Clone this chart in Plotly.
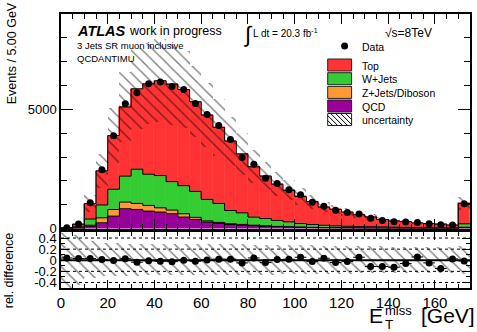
import math
import plotly.graph_objects as go

# ---------------- data ----------------
bin_lo = list(range(0, 175, 5))          # 5 GeV bins, last bin = overflow
bin_w = 5
qcd   = [3, 15, 100, 240, 520, 830, 800, 730, 690, 620, 480, 380, 270, 220, 170, 145, 115, 95, 75, 62,
         50, 42, 35, 30, 25, 22, 18, 15, 13, 11, 10, 8, 7, 6, 40]
zjets = [1, 10, 40, 210, 280, 280, 255, 240, 180, 155, 140, 90, 50, 40, 35, 30, 25, 20, 17, 14,
         12, 10, 9, 7, 6, 5, 4, 4, 3, 3, 2, 2, 2, 1, 15]
wjets = [2, 45, 260, 540, 850, 1090, 1435, 1310, 1355, 1195, 1180, 1090, 905, 795, 555, 485, 340, 305, 250, 205,
         150, 120, 95, 75, 65, 58, 53, 50, 44, 36, 28, 25, 21, 18, 145]
top   = [25, 110, 645, 1430, 2250, 2900, 3370, 3790, 3975, 4085, 4030, 3760, 3535, 3185, 2910, 2470, 2110, 1780, 1520, 1320,
         1135, 960, 760, 690, 595, 495, 410, 310, 260, 240, 195, 175, 155, 120, 855]
data  = [30, 190, 1080, 2465, 3890, 5240, 5700, 6070, 6150, 5960, 5830, 5250, 4780, 4320, 3740, 2975, 2700, 2110, 1885, 1625,
         1420, 1105, 935, 770, 670, 610, 430, 340, 280, 272, 250, 200, 158, 149, 1045]
rel_diff = [0.04, 0.03, 0.03, 0.015, -0.005, 0.027, -0.035, -0.01, -0.02, -0.025, 0.0, -0.018, 0.006, 0.02, 0.02,
            -0.048, 0.042, -0.042, 0.012, 0.018, 0.054, -0.024, 0.036, -0.042, -0.024, 0.054, -0.113, -0.113, -0.125,
            -0.06, 0.06, -0.048, -0.149, 0.024, -0.012]
rel_unc = [0.8, 0.45, 0.33, 0.3, 0.3, 0.29, 0.29, 0.28, 0.28, 0.28, 0.28, 0.28, 0.28, 0.28, 0.28, 0.28, 0.27, 0.27,
           0.27, 0.26, 0.26, 0.26, 0.25, 0.25, 0.25, 0.24, 0.24, 0.24, 0.23, 0.23, 0.23, 0.23, 0.23, 0.23, 0.25]

samples = [("QCD", qcd, "#990099"), ("Z+Jets/Diboson", zjets, "#FF9933"),
           ("W+Jets", wjets, "#33CC33"), ("Top", top, "#FF3333")]

centers = [lo + bin_w / 2 for lo in bin_lo]
edges = bin_lo + [bin_lo[-1] + bin_w]

FONT = "Liberation Sans, Arial, Helvetica, sans-serif"
W, H = 477, 332
ML, MR, MT, MB = 61, 5, 14, 44
PW, PH = W - ML - MR, H - MT - MB


def P(px, py):
    return (px - ML) / PW, (H - MB - py) / PH


fig = go.Figure()

# stacked histograms
base = [0.0] * len(bin_lo)
cum_levels = []
for name, vals, col in samples:
    fig.add_trace(go.Bar(x=centers, y=vals, base=list(base), width=bin_w, name=name,
                         marker=dict(color=col, line=dict(width=0.6, color=col)),
                         showlegend=False, xaxis="x", yaxis="y"))
    base = [b + v for b, v in zip(base, vals)]
    cum_levels.append(list(base))
total = base

# uncertainty band (main)
lo_band = [t * (1 - u) for t, u in zip(total, rel_unc)]
hi_band = [2 * t * u for t, u in zip(total, rel_unc)]
hatch = dict(shape="\\", fgcolor="black", bgcolor="rgba(0,0,0,0)", size=8, solidity=0.17)
fig.add_trace(go.Bar(x=centers, y=hi_band, base=lo_band, width=bin_w,
                     marker=dict(color="rgba(0,0,0,0)", line=dict(width=0), pattern=hatch),
                     showlegend=False, xaxis="x", yaxis="y"))

# step outlines
for lvl in cum_levels:
    fig.add_trace(go.Scatter(x=[edges[0]] + edges, y=[0] + lvl + [lvl[-1]], mode="lines",
                             line=dict(shape="hv", color="black", width=1),
                             showlegend=False, hoverinfo="skip", xaxis="x", yaxis="y"))

# data
fig.add_trace(go.Scatter(x=centers, y=data, mode="markers",
                         marker=dict(color="black", size=7),
                         error_y=dict(type="data", array=[math.sqrt(d) for d in data],
                                      color="black", thickness=1, width=0),
                         showlegend=False, xaxis="x", yaxis="y"))

# ratio panel: uncertainty
fig.add_trace(go.Bar(x=centers, y=[2 * u for u in rel_unc], base=[-u for u in rel_unc], width=bin_w,
                     marker=dict(color="rgba(0,0,0,0)", line=dict(width=0), pattern=hatch),
                     showlegend=False, xaxis="x2", yaxis="y2"))
fig.add_trace(go.Scatter(x=centers, y=rel_diff, mode="markers",
                         marker=dict(color="black", size=7),
                         error_x=dict(type="constant", value=bin_w / 2, color="black", thickness=1, width=0),
                         showlegend=False, xaxis="x2", yaxis="y2"))

shapes = []
for yv, dash, wd in [(0.4, "dot", 1), (0.2, "dot", 1), (-0.2, "dot", 1), (-0.4, "dot", 1), (0, "solid", 2)]:
    shapes.append(dict(type="line", xref="x2 domain", yref="y2", x0=0, x1=1, y0=yv, y1=yv,
                       line=dict(color="black", width=wd, dash=dash), layer="below"))

annotations = []


def txt(text, px, py, size, xanchor="left", yanchor="middle", angle=0, **kw):
    x, y = P(px, py)
    annotations.append(dict(text=text, x=x, y=y, xref="paper", yref="paper", showarrow=False,
                            xanchor=xanchor, yanchor=yanchor, textangle=angle,
                            font=dict(family=FONT, size=size, color="black"), **kw))


txt("<b><i>ATLAS</i></b>", 75, 31, 14.5)
txt("work in progress", 127, 31.5, 12.5)
txt("3 Jets SR muon inclusive", 75, 45.5, 9.5)
txt("QCDANTIMU", 75, 58, 9.5)
txt("∫", 249, 34, 22, xanchor="center")
txt("L dt = 20.3 fb<sup>-1</sup>", 252, 33, 10)
txt("√s=8TeV", 385, 32.5, 12)

# legend (drawn)
leg_x0, leg_x1 = 329, 353
txt("Data", 361, 46.5, 10.5)
x0, y0 = P(342.5, 42.5)
x1, y1 = P(349.5, 49.5)
shapes.append(dict(type="circle", xref="paper", yref="paper", x0=x0, y0=y0, x1=x1, y1=y1,
                   fillcolor="black", line=dict(color="black", width=0)))
legend_rows = [("Top", "#FF3333", 65), ("W+Jets", "#33CC33", 78.7), ("Z+Jets/Diboson", "#FF9933", 92.4),
               ("QCD", "#990099", 106), ("uncertainty", None, 119.5)]
for name, col, yc in legend_rows:
    bx0, by0 = P(leg_x0, yc + 6)
    bx1, by1 = P(leg_x1, yc - 6)
    shapes.append(dict(type="rect", xref="paper", yref="paper", x0=bx0, y0=by0, x1=bx1, y1=by1,
                       fillcolor=col if col else "white", line=dict(color="#222222", width=1)))
    if col is None:
        top_y, bot_y = yc - 6, yc + 6
        for c in range(-12, 26, 5):
            xa, ya = leg_x0 + c, top_y
            xb, yb = xa + 12, bot_y
            if xa < leg_x0:
                ya += leg_x0 - xa
                xa = leg_x0
            if xb > leg_x1:
                yb -= xb - leg_x1
                xb = leg_x1
            if xb <= xa:
                continue
            p0 = P(xa, ya)
            p1 = P(xb, yb)
            shapes.append(dict(type="line", xref="paper", yref="paper", x0=p0[0], y0=p0[1], x1=p1[0], y1=p1[1],
                               line=dict(color="black", width=1)))
    txt(name, 361, yc + 0.5, 10.5)

# axis titles
txt("Events / 5.00 GeV", 12, 53, 12.5, xanchor="center", yanchor="middle", angle=-90)
txt("rel. difference", 9, 270, 12.5, xanchor="center", yanchor="middle", angle=-90)
txt("E", 368, 315.5, 21)
txt("miss", 385, 310.5, 13)
txt("T", 385, 324.5, 13.5)
txt("[GeV]", 421, 315.5, 21)

axis_common = dict(showline=True, linecolor="black", linewidth=1.5, mirror="allticks",
                   ticks="inside", tickcolor="black", showgrid=False, zeroline=False,
                   tickfont=dict(family=FONT, size=13, color="black"))

fig.update_layout(
    width=W, height=H, margin=dict(l=ML, r=MR, t=MT, b=MB),
    paper_bgcolor="white", plot_bgcolor="white",
    barmode="overlay", bargap=0, showlegend=False,
    font=dict(family=FONT, color="black"),
    xaxis=dict(domain=[0, 1], anchor="y", range=[0, 175], dtick=20, ticklen=10, showticklabels=False,
               minor=dict(dtick=5, ticklen=5, ticks="inside", tickcolor="black"), **axis_common),
    yaxis=dict(domain=[0.217, 1], anchor="x", range=[0, 9000], tickvals=[0, 5000], ticktext=["0", "5000"],
               ticklen=12, minor=dict(dtick=1000, ticklen=6, ticks="inside", tickcolor="black"), **axis_common),
    xaxis2=dict(domain=[0, 1], anchor="y2", range=[0, 175], dtick=20, ticklen=8,
                minor=dict(dtick=5, ticklen=4, ticks="inside", tickcolor="black"),
                **{**axis_common, "tickfont": dict(family=FONT, size=15, color="black")}),
    yaxis2=dict(domain=[0, 0.2026], anchor="x2", range=[-0.5, 0.5],
                tickvals=[-0.4, -0.2, 0, 0.2, 0.4], ticktext=["-0.4", "-0.2", "0", "0.2", "0.4"],
                ticklen=8, minor=dict(dtick=0.1, ticklen=4, ticks="inside", tickcolor="black"), **axis_common),
    shapes=shapes, annotations=annotations,
)

fig.write_html("out.html")
